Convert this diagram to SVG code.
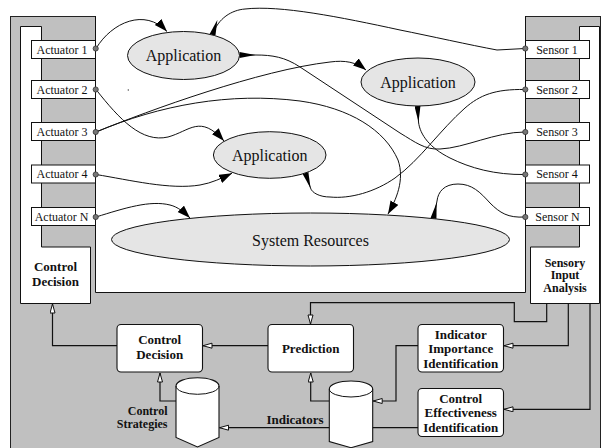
<svg xmlns="http://www.w3.org/2000/svg" width="601" height="448" viewBox="0 0 601 448">
  <style>
    .panel { fill: #c0c0c0; stroke: #222; stroke-width: 1; }
    .wpanel { fill: #fff; stroke: #111; stroke-width: 1; }
    .port-box { fill: #fff; stroke: #111; stroke-width: 1; }
    .port { fill: #777; stroke: #333; stroke-width: 0.8; }
    .lbl { font-family: "Liberation Serif", "Times New Roman", serif; font-size: 12px; fill: #111; }
    .ell { fill: #e5e5e5; stroke: #111; stroke-width: 1; }
    .ell-t { font-family: "Liberation Serif", "Times New Roman", serif; font-size: 16px; fill: #111; text-anchor: middle; }
    .box { fill: #fff; stroke: #111; stroke-width: 1.1; }
    .b { font-family: "Liberation Serif", "Times New Roman", serif; font-size: 13px; font-weight: bold; fill: #111; text-anchor: middle; }
    .bs { font-family: "Liberation Serif", "Times New Roman", serif; font-size: 12px; font-weight: bold; fill: #111; }
    .curve { fill: none; stroke: #111; stroke-width: 1; }
    .ortho { fill: none; stroke: #111; stroke-width: 1.2; }
  </style>
  <defs>
    <marker id="arr" markerUnits="userSpaceOnUse" markerWidth="14" markerHeight="10" refX="13" refY="4.5" orient="auto">
      <path d="M0,0 L13,4.5 L0,9 z" fill="#000"/>
    </marker>
    <marker id="wdg" markerUnits="userSpaceOnUse" markerWidth="17" markerHeight="8" refX="16" refY="3" orient="auto">
      <path d="M0,3 L16,0 L16,6 z" fill="#000"/>
    </marker>
    <marker id="hol" markerUnits="userSpaceOnUse" markerWidth="12" markerHeight="8" refX="10" refY="3" orient="auto">
      <path d="M1,0.5 L10,3 L1,5.5 z" fill="#fff" stroke="#111" stroke-width="1"/>
    </marker>
  </defs>

  <!-- backdrop: grey frame with white workspace -->
  <rect class="panel" x="10.5" y="16.5" width="590" height="440"/>
  <rect x="95.5" y="-2" width="430" height="294.5" fill="#fff"/>
  <polyline points="95.5,16 95.5,292.5 525.5,292.5 525.5,16" fill="none" stroke="#111" stroke-width="1"/>

  <!-- left panel: control decision -->
  <g id="control-panel">
    <polygon class="wpanel" points="20.5,26.5 41.5,26.5 41.5,247 90.5,247 90.5,303.5 20.5,303.5"/>
    <text class="b" x="55.5" y="271">Control</text>
    <text class="b" x="55.5" y="286">Decision</text>
  </g>

  <!-- right panel: sensory input analysis -->
  <g id="sensory-panel">
    <polygon class="wpanel" points="579.5,26.5 599.5,26.5 599.5,303.5 530.5,303.5 530.5,247 579.5,247"/>
    <text class="bs" x="565" y="266.5" text-anchor="middle">Sensory</text>
    <text class="bs" x="565" y="279" text-anchor="middle">Input</text>
    <text class="bs" x="565" y="291.5" text-anchor="middle">Analysis</text>
  </g>

  <!-- connectors -->
  <g id="connectors">
    <!-- actuator edges -->
    <path class="curve" d="M96,48.5 C112,22 145,8 167,31.5" marker-end="url(#arr)"/>
    <path class="curve" d="M96,89.5 C120,120 142,143 168,137 C190,131 200,114 224,141" marker-end="url(#arr)"/>
    <path class="curve" d="M96,132 C150,110 260,70 330,62 C345,60 356,62 366,70" marker-end="url(#arr)"/>
    <path class="curve" d="M96,132 C160,105 230,92 300,101 C350,108 385,130 398,160 C405,180 396,200 388,214" marker-end="url(#arr)"/>
    <path class="curve" d="M96,174.5 C130,180 170,190 200,185 C212,183 222,178 232,173.3" marker-end="url(#arr)"/>
    <path class="curve" d="M96,217 C125,208 150,200 170,205 C178,207 184,212 190,218" marker-end="url(#arr)"/>
    <!-- sensor edges -->
    <path class="curve" d="M525,48.5 L497,50 C470,45 430,36 400,30 C340,17 280,5 245,9 C232,10 218,18 212.5,35" marker-end="url(#wdg)"/>
    <path class="curve" d="M525,89.5 C495,89 480,95 465,108 C440,130 420,160 395,178 C375,192 350,199 330,197 C320,197 312,193 310.5,188 L305.5,173" marker-end="url(#wdg)"/>
    <path class="curve" d="M525,132 C495,132 465,148 440,149 C425,150 415,142 400,133 L300,67 C285,57 272,55 256,55 L239.5,55" marker-end="url(#wdg)"/>
    <path class="curve" d="M525,174.5 C495,175 470,168 450,158 C430,148 420,135 418.5,122 L417.5,106" marker-end="url(#wdg)"/>
    <path class="curve" d="M525,217 C508,218 500,213 490,203 C480,192 472,184 458,184 C444,184 438,192 437,201 L433.5,218.5" marker-end="url(#wdg)"/>
    <circle cx="128.3" cy="90" r="0.7" fill="#444"/>

    <!-- analysis and decision flow -->
    <path class="ortho" d="M117,345.7 H52.5 V304" marker-end="url(#hol)"/>
    <path class="ortho" d="M268,345.7 H203" marker-end="url(#hol)"/>
    <path class="ortho" d="M546.7,303.5 V321.7 H514.3 V302.7 H310.5 V324" marker-end="url(#hol)"/>
    <path class="ortho" d="M568.3,303.5 V345.7 H504" marker-end="url(#hol)"/>
    <path class="ortho" d="M590,303.5 V409.3 H504" marker-end="url(#hol)"/>
    <path class="ortho" d="M418,345.7 H396 V401 H373.2" marker-end="url(#hol)"/>
    <path class="ortho" d="M418,427.7 H219.5" marker-end="url(#hol)"/>
    <path class="ortho" d="M329.3,401 H310.7 V373" marker-end="url(#hol)"/>
    <path class="ortho" d="M176,401 H160 V373" marker-end="url(#hol)"/>
  </g>

  <!-- actuators -->
  <g id="actuator-1"><rect class="port-box" x="31.5" y="40.5" width="64" height="18"/><text class="lbl" x="62" y="53.5" text-anchor="middle">Actuator 1</text><circle class="port" cx="95.7" cy="48.5" r="2.6"/></g>
  <g id="actuator-2"><rect class="port-box" x="31.5" y="80.5" width="64" height="18"/><text class="lbl" x="62" y="93.5" text-anchor="middle">Actuator 2</text><circle class="port" cx="95.7" cy="89.5" r="2.6"/></g>
  <g id="actuator-3"><rect class="port-box" x="31.5" y="122.5" width="64" height="18"/><text class="lbl" x="62" y="135.8" text-anchor="middle">Actuator 3</text><circle class="port" cx="95.7" cy="132" r="2.6"/></g>
  <g id="actuator-4"><rect class="port-box" x="31.5" y="165" width="64" height="18"/><text class="lbl" x="62" y="178.3" text-anchor="middle">Actuator 4</text><circle class="port" cx="95.7" cy="174.5" r="2.6"/></g>
  <g id="actuator-n"><rect class="port-box" x="31.5" y="207.5" width="64" height="18"/><text class="lbl" x="61.5" y="220.8" text-anchor="middle">Actuator N</text><circle class="port" cx="95.7" cy="217" r="2.6"/></g>

  <!-- sensors -->
  <g id="sensor-1"><rect class="port-box" x="525.5" y="40.5" width="64" height="18"/><text class="lbl" x="557" y="53.5" text-anchor="middle">Sensor 1</text><circle class="port" cx="525.3" cy="48.5" r="2.6"/></g>
  <g id="sensor-2"><rect class="port-box" x="525.5" y="80.5" width="64" height="18"/><text class="lbl" x="557" y="93.5" text-anchor="middle">Sensor 2</text><circle class="port" cx="525.3" cy="89.5" r="2.6"/></g>
  <g id="sensor-3"><rect class="port-box" x="525.5" y="122.5" width="64" height="18"/><text class="lbl" x="557" y="135.8" text-anchor="middle">Sensor 3</text><circle class="port" cx="525.3" cy="132" r="2.6"/></g>
  <g id="sensor-4"><rect class="port-box" x="525.5" y="165" width="64" height="18"/><text class="lbl" x="557" y="178.3" text-anchor="middle">Sensor 4</text><circle class="port" cx="525.3" cy="174.5" r="2.6"/></g>
  <g id="sensor-n"><rect class="port-box" x="525.5" y="207.5" width="64" height="18"/><text class="lbl" x="557.5" y="220.8" text-anchor="middle">Sensor N</text><circle class="port" cx="525.3" cy="217" r="2.6"/></g>

  <!-- applications and resources -->
  <g id="app-1"><ellipse class="ell" cx="183.5" cy="55.5" rx="56" ry="24"/><text class="ell-t" x="183.5" y="61">Application</text></g>
  <g id="app-2"><ellipse class="ell" cx="418" cy="82" rx="57" ry="24"/><text class="ell-t" x="418" y="88">Application</text></g>
  <g id="app-3"><ellipse class="ell" cx="269.7" cy="155" rx="56.3" ry="23.3"/><text class="ell-t" x="269.7" y="160.5">Application</text></g>
  <g id="system-resources"><ellipse class="ell" cx="310.5" cy="239.5" rx="199" ry="26.5"/><text class="ell-t" x="310.5" y="245.5">System Resources</text></g>

  <!-- processing blocks -->
  <g id="control-decision"><rect class="box" x="117" y="324.5" width="85.5" height="47.5" rx="4"/><text class="b" x="159.7" y="343.5">Control</text><text class="b" x="159.7" y="358.5">Decision</text></g>
  <g id="prediction"><rect class="box" x="268" y="324.5" width="85.5" height="47.5" rx="4"/><text class="b" x="310.7" y="352.5">Prediction</text></g>
  <g id="indicator-importance"><rect class="box" x="418" y="324.5" width="85.5" height="47.5" rx="4"/><text class="b" x="460.7" y="338.5">Indicator</text><text class="b" x="460.7" y="353">Importance</text><text class="b" x="460.7" y="367.5">Identification</text></g>
  <g id="control-effectiveness"><rect class="box" x="418" y="388.5" width="85.5" height="48" rx="4"/><text class="b" x="460.7" y="402.5">Control</text><text class="b" x="460.7" y="417">Effectiveness</text><text class="b" x="460.7" y="431.5">Identification</text></g>

  <!-- data stores -->
  <g id="control-strategies">
    <path class="box" d="M176,386 A21.5,8.3 0 0 1 219,386 L219,437.5 L197.5,447 L176,437.5 Z"/>
    <path class="curve" d="M176,386 A21.5,8.3 0 0 0 219,386" stroke-width="1.1"/>
    <text class="bs" x="167.5" y="414.5" text-anchor="end">Control</text>
    <text class="bs" x="167.5" y="428" text-anchor="end">Strategies</text>
  </g>
  <g id="indicators">
    <path class="box" d="M329.3,389 A21.7,8 0 0 1 372.7,389 L372.7,441.5 L351,447.7 L329.3,441.5 Z"/>
    <path class="curve" d="M329.3,389 A21.7,8 0 0 0 372.7,389" stroke-width="1.1"/>
    <text class="b" x="323.5" y="423.5" style="text-anchor:end">Indicators</text>
  </g>
</svg>
